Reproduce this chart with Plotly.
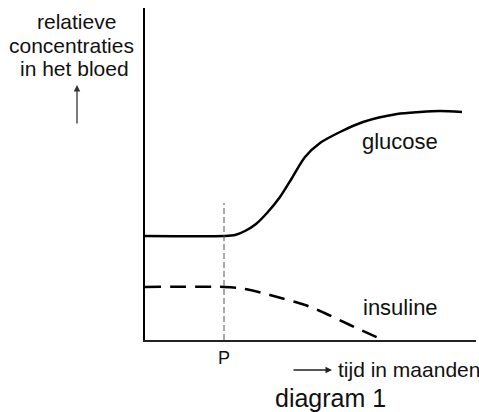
import plotly.graph_objects as go

# time (arbitrary units) and relative concentrations (arbitrary units)
glucose_t = [0, 79, 90, 100, 111, 122, 135, 147, 160, 175, 195, 218, 252, 275, 295, 317]
glucose_c = [104, 104, 105, 109, 116, 127, 143, 162, 183, 197, 208, 218, 226, 228, 229, 228]
insuline_t = [0, 79, 100, 125, 160, 175, 205, 238]
insuline_c = [53, 53, 51, 45, 35, 29, 15, 0]
p_time = 79
p_top = 137

X_MAX, Y_MAX = 331, 332
W, H = 479, 412
L, T = 145, 8
R = W - L - X_MAX
B = H - T - Y_MAX

def px(x):  # window pixel -> paper x
    return (x - L) / X_MAX

def py(y):  # window pixel -> paper y
    return (T + Y_MAX - y) / Y_MAX

FONT = "Liberation Sans, Arial, sans-serif"

fig = go.Figure()
fig.add_trace(go.Scatter(x=glucose_t, y=glucose_c, mode="lines",
                         line=dict(color="black", width=2.5, shape="spline", smoothing=0.8),
                         name="glucose", showlegend=False, hoverinfo="skip"))
fig.add_trace(go.Scatter(x=insuline_t, y=insuline_c, mode="lines",
                         line=dict(color="black", width=2.5, shape="spline", smoothing=0.8,
                                   dash="16px,9px"),
                         name="insuline", showlegend=False, hoverinfo="skip"))

fig.add_shape(type="line", x0=p_time, x1=p_time, y0=0, y1=p_top, xref="x", yref="y",
              line=dict(color="#555", width=1, dash="6px,3px"))

ann = []
def txt(x, y, s, size, xanchor="center"):
    ann.append(dict(x=px(x), y=py(y), xref="paper", yref="paper", text=s, showarrow=False,
                    font=dict(family=FONT, size=size, color="#111"),
                    xanchor=xanchor, yanchor="middle"))

txt(76, 21, "relatieve", 21)
txt(71, 45, "concentraties", 21)
txt(74, 69, "in het bloed", 21)
txt(400, 141, "glucose", 22)
txt(400, 307, "insuline", 22)
txt(224, 358, "P", 18)
txt(336, 369, "tijd in maanden", 21, xanchor="left")
txt(330, 398, "diagram 1", 25)

# arrows
ann.append(dict(x=px(77), y=py(85), xref="paper", yref="paper", ax=0, ay=40, text="",
                showarrow=True, arrowhead=2, arrowsize=1, arrowwidth=1.3, arrowcolor="#333"))
ann.append(dict(x=px(332), y=py(370), xref="paper", yref="paper", ax=-40, ay=0, text="",
                showarrow=True, arrowhead=2, arrowsize=1, arrowwidth=1.3, arrowcolor="#222"))

fig.update_layout(
    width=W, height=H,
    margin=dict(l=L, r=R, t=T, b=B, pad=0),
    paper_bgcolor="white", plot_bgcolor="white",
    annotations=ann,
    xaxis=dict(range=[0, X_MAX], showline=True, linecolor="#222", linewidth=1.6,
               showgrid=False, zeroline=False, showticklabels=False, ticks=""),
    yaxis=dict(range=[0, Y_MAX], showline=True, linecolor="black", linewidth=2,
               showgrid=False, zeroline=False, showticklabels=False, ticks=""),
)
fig.write_html("out.html", config={"displayModeBar": False},
               post_script="document.body.style.margin='0';document.body.style.overflow='hidden';")
